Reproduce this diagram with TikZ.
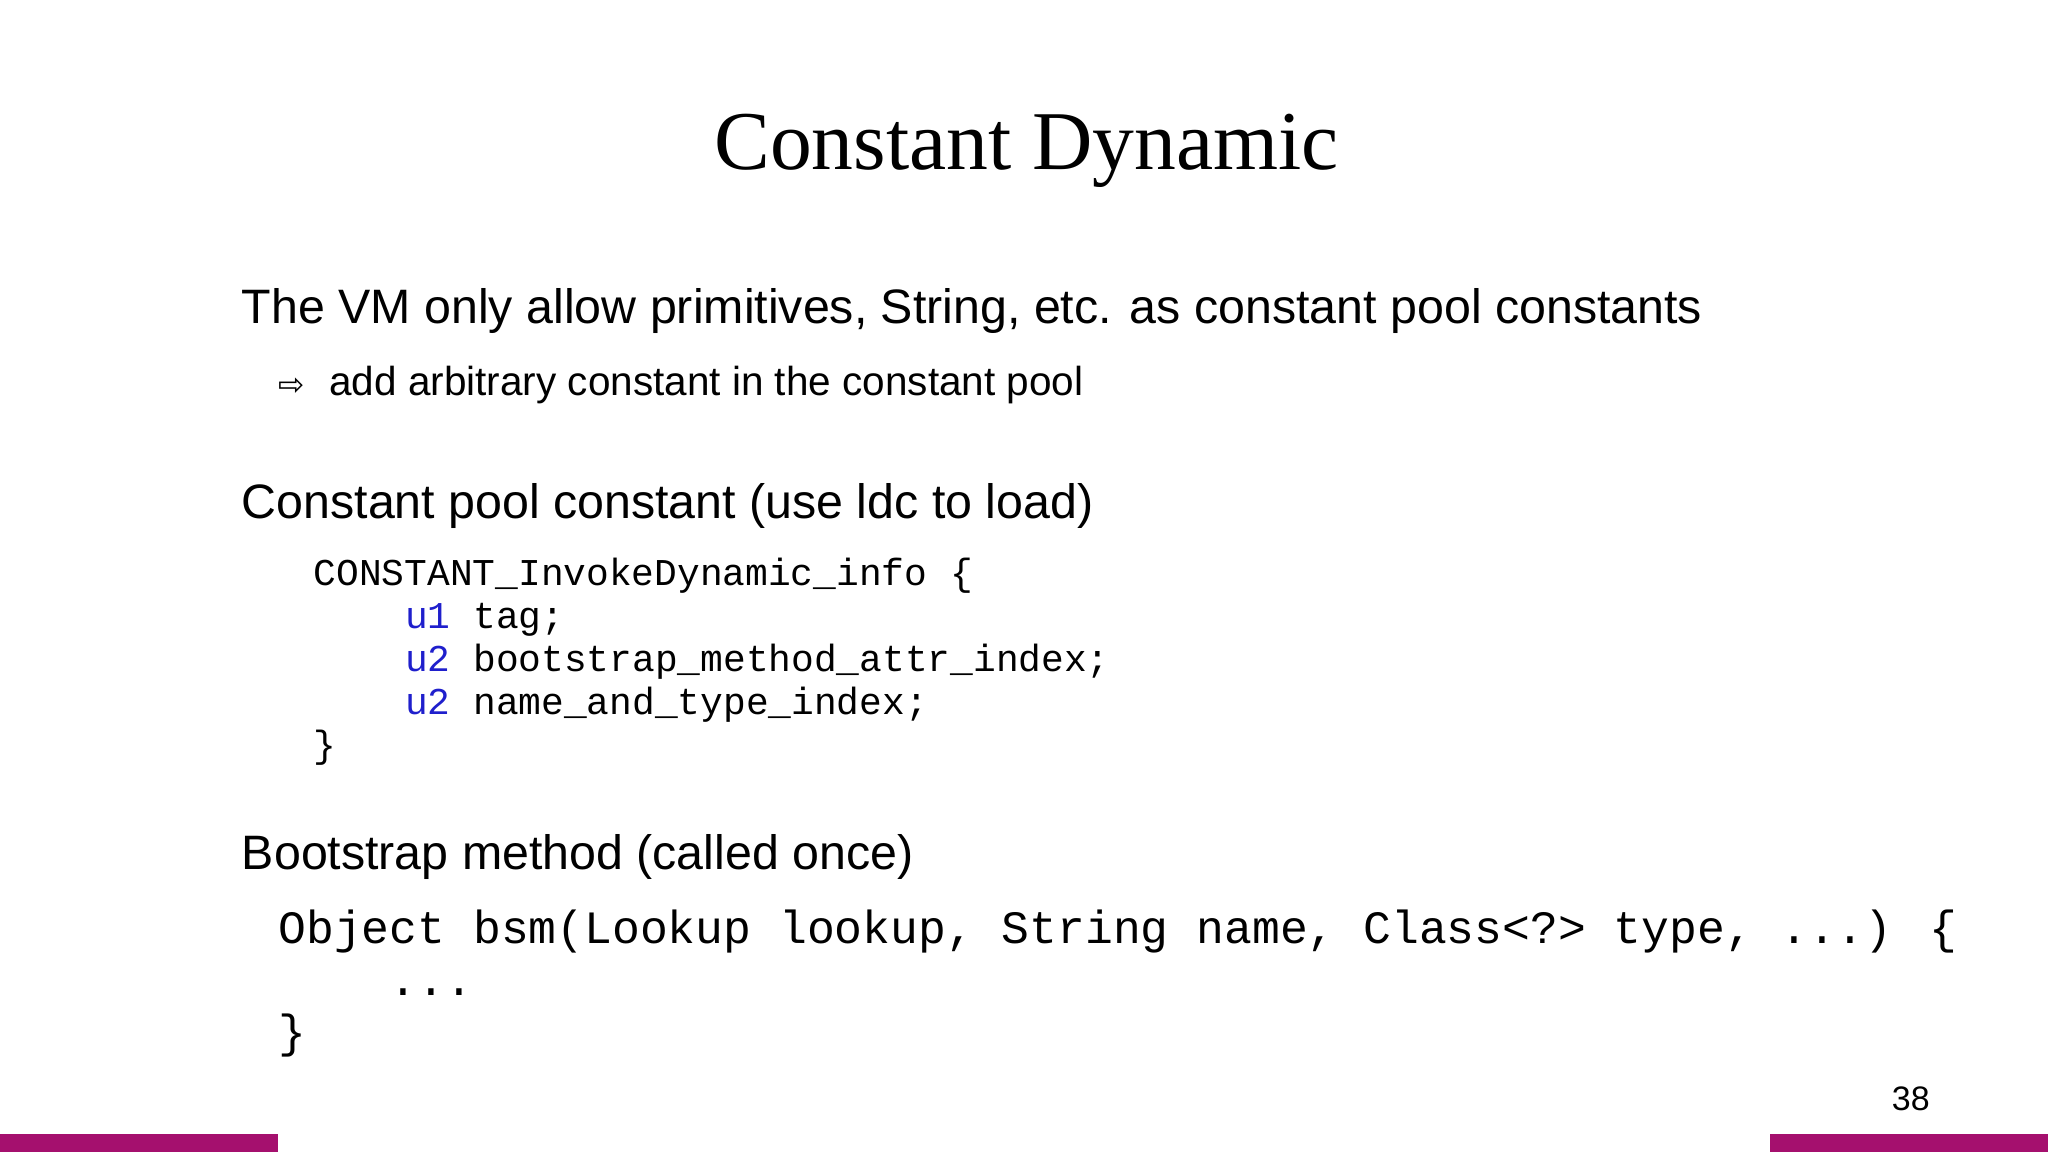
\documentclass[tikz,border=0pt]{standalone}
\usepackage{fontspec}
\setmainfont{Liberation Sans}
\newfontfamily\serifF{Liberation Serif}
\newfontfamily\monoF{Liberation Mono}
\newfontfamily\symF{DejaVu Sans}
\definecolor{barc}{HTML}{A5106E}
\definecolor{kw}{HTML}{1F1FCC}
\begin{document}
\begin{tikzpicture}[x=1pt,y=-1pt,
  txt/.style={anchor=base west,inner sep=0pt},
  body/.style={txt,font=\fontsize{37}{44}\selectfont},
  sub/.style={txt,font=\fontsize{31}{37}\selectfont},
  code/.style={txt,font=\monoF\fontsize{29}{33}\selectfont},
  bigcode/.style={txt,font=\monoF\fontsize{35.5}{40}\selectfont}]
\useasboundingbox (0,0) rectangle (1568,882);
\fill[barc] (0,868) rectangle (213,882);
\fill[barc] (1355,868) rectangle (1568,882);
\node[anchor=base,inner sep=0pt,font=\serifF\fontsize{64}{70}\selectfont] (title) at (786,130) {Constant Dynamic};
\node[body] (l1) at (185,248) {The VM only allow primitives, String, etc. as constant pool constants};
\node[sub] (arr) at (213,303) {\symF\fontsize{24}{28}\selectfont ⇨};
\node[sub] (l2) at (252,303) {add arbitrary constant in the constant pool};
\node[body] (l3) at (185,397) {Constant pool constant (use ldc to load)};
\node[code] (c1) at (240,448) {CONSTANT\_InvokeDynamic\_info \{};
\node[code] (c2) at (310,481) {\textcolor{kw}{u1} tag;};
\node[code] (c3) at (310,514) {\textcolor{kw}{u2} bootstrap\_method\_attr\_index;};
\node[code] (c4) at (310,547) {\textcolor{kw}{u2} name\_and\_type\_index;};
\node[code] (c5) at (240,580) {\}};
\node[body] (l4) at (185,666) {Bootstrap method (called once)};
\node[bigcode] (b1) at (213,722) {Object bsm(Lookup lookup, String name, Class<?> type, ...) \{};
\node[bigcode] (b2) at (298,762) {...};
\node[bigcode] (b3) at (213,802) {\}};
\node[anchor=base,inner sep=0pt,font=\fontsize{26}{30}\selectfont] (pg) at (1463,850) {38};
\end{tikzpicture}
\end{document}
